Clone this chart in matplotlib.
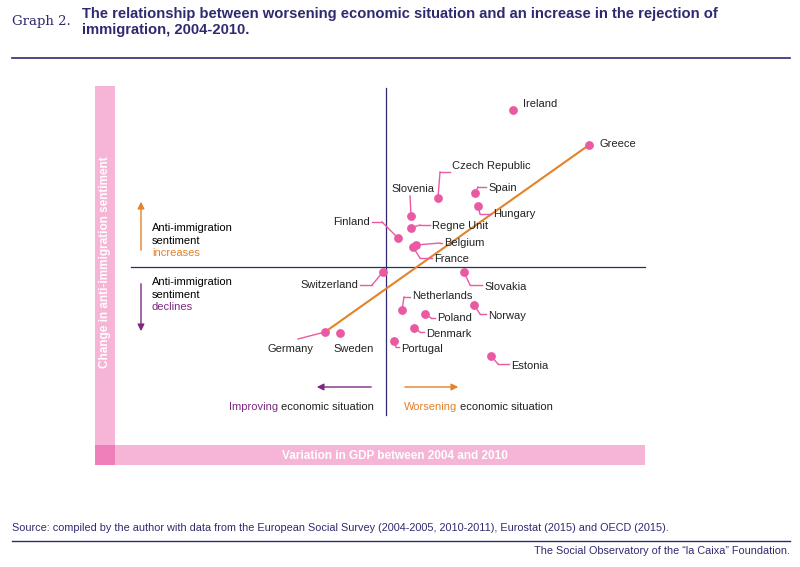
import matplotlib.pyplot as plt
from matplotlib.patches import Rectangle

# country positions (x: GDP variation, y: sentiment change; picture units)
countries = ['Ireland', 'Greece', 'Czech Republic', 'Slovenia', 'Spain', 'Hungary', 'Regne Unit',
             'Finland', 'Belgium', 'France', 'Switzerland', 'Slovakia', 'Netherlands', 'Poland',
             'Norway', 'Denmark', 'Portugal', 'Estonia', 'Germany', 'Sweden']
gdp_x = [513, 589, 438, 411, 475, 478, 411, 398, 416, 413, 383, 464, 402, 425, 474, 414, 394, 491, 325, 340]
sent_y = [110, 145, 198, 216, 193, 206, 228, 238, 245, 247, 272, 272, 310, 314, 305, 328, 341, 356, 332, 333]
# label anchor, alignment and elbow point of leader
label_pos = {
    'Ireland': (523, 104, 'left', None), 'Greece': (600, 144, 'left', None),
    'Czech Republic': (452, 166, 'left', (440, 172)), 'Slovenia': (413, 189, 'center', (410, 196)),
    'Spain': (488, 188, 'left', (478, 187)), 'Hungary': (493, 214, 'left', (480, 214)),
    'Regne Unit': (432, 226, 'left', (420, 225)), 'Finland': (370, 222, 'right', (382, 222)),
    'Belgium': (444, 243, 'left', (440, 243)), 'France': (434, 259, 'left', (420, 258)),
    'Switzerland': (358, 285, 'right', (372, 285)), 'Slovakia': (484, 287, 'left', (470, 285)),
    'Netherlands': (412, 296, 'left', (404, 297)), 'Poland': (437, 318, 'left', (431, 318)),
    'Norway': (488, 316, 'left', (480, 314)), 'Denmark': (426, 334, 'left', (420, 332)),
    'Portugal': (401, 349, 'left', (396, 347)), 'Estonia': (511, 366, 'left', (498, 364)),
    'Germany': (291, 349, 'center', (298, 339)), 'Sweden': (354, 349, 'center', None),
}

pink = '#ea5aa2'
light = '#f6b4d6'
orange = '#e38228'
purple = '#7d2a80'
navy = '#2f2a70'

plt.rcParams['font.family'] = ['Liberation Sans', 'DejaVu Sans']
fig = plt.figure(figsize=(8, 5.67), dpi=100)
ax = fig.add_axes([0, 0, 1, 1])
ax.set_xlim(0, 800)
ax.set_ylim(567, 0)
ax.axis('off')


def chain(x, y, parts, **kw):
    # draw pieces of text one after another on one line
    fig.canvas.draw()
    r = fig.canvas.get_renderer()
    for s, c in parts:
        t = ax.text(x, y, s, color=c, va='center', **kw)
        bb = t.get_window_extent(r)
        x += bb.width + 3


# header
ax.text(12, 22, 'Graph 2.', family='DejaVu Serif', fontsize=9.5, color=navy, va='center')
ax.text(82, 22, 'The relationship between worsening economic situation and an increase in the rejection of\nimmigration, 2004-2010.',
        fontsize=10.6, fontweight='bold', color=navy, va='center', linespacing=1.15)
ax.plot([12, 790], [58, 58], color=navy, lw=1.2)

# frame bars
ax.add_patch(Rectangle((95, 86), 20, 379, color=light, lw=0))
ax.add_patch(Rectangle((95, 445), 550, 20, color=light, lw=0))
ax.add_patch(Rectangle((95, 445), 20, 20, color='#ee7fba', lw=0))
ax.text(105, 262, 'Change in anti-immigration sentiment', rotation=90, color='white',
        fontsize=8.5, ha='center', va='center', fontweight='bold')
ax.text(395, 456, 'Variation in GDP between 2004 and 2010', color='white', fontsize=8.5,
        ha='center', va='center', fontweight='bold')

# quadrant lines
ax.plot([386, 386], [88, 415], color=navy, lw=0.9)
ax.plot([131, 645], [267, 267], color=navy, lw=0.9)

# trend line Germany -> Greece
gi, ri = countries.index('Germany'), countries.index('Greece')
ax.plot([gdp_x[gi], gdp_x[ri]], [sent_y[gi], sent_y[ri]], color=orange, lw=1.5, zorder=2)

ax.scatter(gdp_x, sent_y, s=40, color=pink, zorder=3, lw=0)
for name, x, y in zip(countries, gdp_x, sent_y):
    tx, ty, ha, elbow = label_pos[name]
    ax.text(tx, ty, name, fontsize=8, ha=ha, va='center', color='#222222', zorder=4)
    if elbow is not None:
        ax.plot([x, elbow[0]], [y, elbow[1]], color=pink, lw=1, zorder=2)
        end = tx - 2 if ha == 'left' else (tx + 2 if ha == 'right' else elbow[0])
        if ha != 'center':
            ax.plot([elbow[0], end], [elbow[1], elbow[1]], color=pink, lw=1, zorder=2)

# side annotations
ax.annotate('', xy=(141, 199), xytext=(141, 253), arrowprops=dict(arrowstyle='-|>', color=orange, lw=1))
ax.annotate('', xy=(141, 334), xytext=(141, 281), arrowprops=dict(arrowstyle='-|>', color=purple, lw=1))
for y0, word, c in [(228, 'increases', orange), (282, 'declines', purple)]:
    ax.text(152, y0, 'Anti-immigration', fontsize=8, va='center')
    ax.text(152, y0 + 13, 'sentiment', fontsize=8, va='center')
    ax.text(152, y0 + 25, word, fontsize=8, va='center', color=c)

ax.annotate('', xy=(314, 387), xytext=(374, 387), arrowprops=dict(arrowstyle='-|>', color=purple, lw=1))
ax.annotate('', xy=(461, 387), xytext=(402, 387), arrowprops=dict(arrowstyle='-|>', color=orange, lw=1))
chain(229, 407, [('Improving', purple), ('economic situation', '#222222')], fontsize=8)
chain(404, 407, [('Worsening', orange), ('economic situation', '#222222')], fontsize=8)

# footer
ax.text(12, 528, 'Source: compiled by the author with data from the European Social Survey (2004-2005, 2010-2011), Eurostat (2015) and OECD (2015).',
        fontsize=7.8, color=navy, va='center')
ax.plot([12, 790], [541, 541], color=navy, lw=1)
ax.text(790, 551, 'The Social Observatory of the \u201cla Caixa\u201d Foundation.', fontsize=7.8,
        color=navy, va='center', ha='right')

fig.savefig('out.png', dpi=100)
